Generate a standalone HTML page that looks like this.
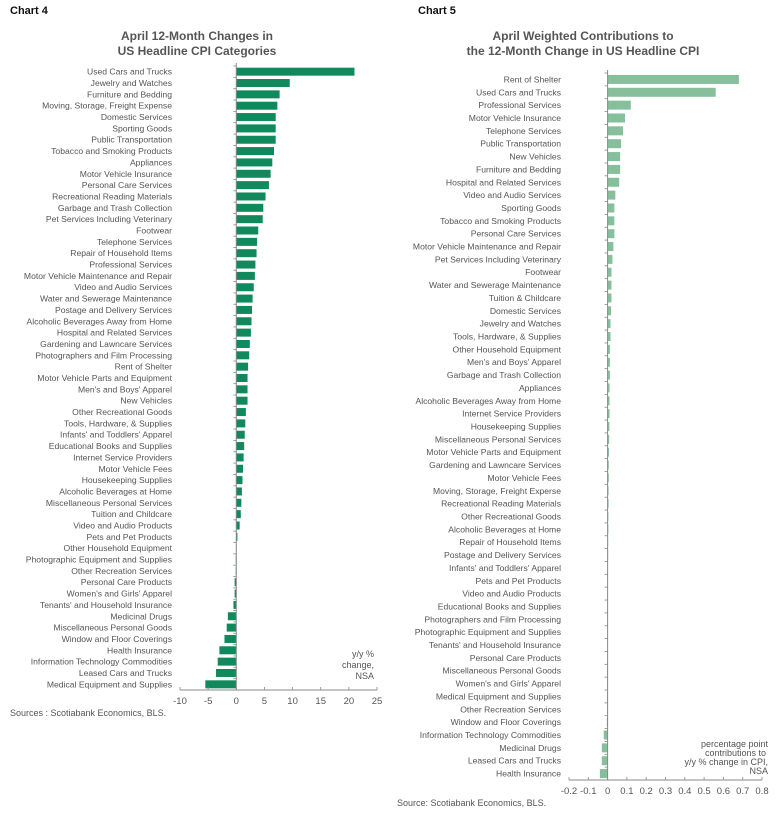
<!DOCTYPE html>
<html><head><meta charset="utf-8"><style>
body{margin:0;background:#fff;width:779px;height:819px;overflow:hidden;font-family:"Liberation Sans",Arial,sans-serif}
svg text{font-family:"Liberation Sans",Arial,sans-serif}
</style></head><body>
<svg id="s" width="779" height="819">
<text x="10" y="14" font-size="11" font-weight="bold" fill="#111">Chart 4</text>
<text x="197" y="40" font-size="12" font-weight="bold" fill="#555" text-anchor="middle">April 12-Month Changes in</text>
<text x="197" y="55" font-size="12" font-weight="bold" fill="#555" text-anchor="middle">US Headline CPI Categories</text>
<text x="418" y="14" font-size="11" font-weight="bold" fill="#111">Chart 5</text>
<text x="583" y="40" font-size="12" font-weight="bold" fill="#555" text-anchor="middle">April Weighted Contributions to</text>
<text x="583" y="55" font-size="12" font-weight="bold" fill="#555" text-anchor="middle">the 12-Month Change in US Headline CPI</text>
<text x="10" y="716" font-size="9" fill="#555">Sources : Scotiabank Economics, BLS.</text>
<text x="397" y="806" font-size="9" fill="#555">Source: Scotiabank Economics, BLS.</text>
<g font-size="9" fill="#555" text-anchor="end">
<text x="374" y="657">y/y %</text><text x="374" y="668">change,</text><text x="374" y="679">NSA</text></g>
<g font-size="9" fill="#555" text-anchor="end">
<text x="768" y="747">percentage point</text><text x="766" y="756">contributions to</text><text x="768" y="765">y/y % change in CPI,</text><text x="768" y="774">NSA</text></g>
</svg>
<script>
const cats4=["Used Cars and Trucks","Jewelry and Watches","Furniture and Bedding","Moving, Storage, Freight Expense","Domestic Services","Sporting Goods","Public Transportation","Tobacco and Smoking Products","Appliances","Motor Vehicle Insurance","Personal Care Services","Recreational Reading Materials","Garbage and Trash Collection","Pet Services Including Veterinary","Footwear","Telephone Services","Repair of Household Items","Professional Services","Motor Vehicle Maintenance and Repair","Video and Audio Services","Water and Sewerage Maintenance","Postage and Delivery Services","Alcoholic Beverages Away from Home","Hospital and Related Services","Gardening and Lawncare Services","Photographers and Film Processing","Rent of Shelter","Motor Vehicle Parts and Equipment","Men's and Boys' Apparel","New Vehicles","Other Recreational Goods","Tools, Hardware, & Supplies","Infants' and Toddlers' Apparel","Educational Books and Supplies","Internet Service Providers","Motor Vehicle Fees","Housekeeping Supplies","Alcoholic Beverages at Home","Miscellaneous Personal Services","Tuition and Childcare","Video and Audio Products","Pets and Pet Products","Other Household Equipment","Photographic Equipment and Supplies","Other Recreation Services","Personal Care Products","Women's and Girls' Apparel","Tenants' and Household Insurance","Medicinal Drugs","Miscellaneous Personal Goods","Window and Floor Coverings","Health Insurance","Information Technology Commodities","Leased Cars and Trucks","Medical Equipment and Supplies"];
const vals4=[21,9.5,7.7,7.3,7.0,7.0,7.0,6.7,6.4,6.1,5.8,5.2,4.8,4.7,3.9,3.7,3.6,3.4,3.3,3.1,2.9,2.8,2.7,2.6,2.4,2.3,2.1,2.0,2.0,2.0,1.7,1.6,1.5,1.4,1.3,1.2,1.1,1.0,0.9,0.8,0.6,0.2,0.0,-0.1,-0.1,-0.3,-0.3,-0.5,-1.5,-1.7,-2.1,-3.0,-3.3,-3.6,-5.5];
const ticks4=[-10,-5,0,5,10,15,20,25];
const cats5=["Rent of Shelter","Used Cars and Trucks","Professional Services","Motor Vehicle Insurance","Telephone Services","Public Transportation","New Vehicles","Furniture and Bedding","Hospital and Related Services","Video and Audio Services","Sporting Goods","Tobacco and Smoking Products","Personal Care Services","Motor Vehicle Maintenance and Repair","Pet Services Including Veterinary","Footwear","Water and Sewerage Maintenance","Tuition & Childcare","Domestic Services","Jewelry and Watches","Tools, Hardware, & Supplies","Other Household Equipment","Men's and Boys' Apparel","Garbage and Trash Collection","Appliances","Alcoholic Beverages Away from Home","Internet Service Providers","Housekeeping Supplies","Miscellaneous Personal Services","Motor Vehicle Parts and Equipment","Gardening and Lawncare Services","Motor Vehicle Fees","Moving, Storage, Freight Experse","Recreational Reading Materials","Other Recreational Goods","Alcoholic Beverages at Home","Repair of Household Items","Postage and Delivery Services","Infants' and Toddlers' Apparel","Pets and Pet Products","Video and Audio Products","Educational Books and Supplies","Photographers and Film Processing","Photographic Equipment and Supplies","Tenants' and Household Insurance","Personal Care Products","Miscellaneous Personal Goods","Women's and Girls' Apparel","Medical Equipment and Supplies","Other Recreation Services","Window and Floor Coverings","Information Technology Commodities","Medicinal Drugs","Leased Cars and Trucks","Health Insurance"];
const vals5=[0.68,0.56,0.12,0.09,0.08,0.07,0.065,0.065,0.06,0.04,0.035,0.035,0.035,0.03,0.025,0.02,0.02,0.02,0.018,0.015,0.015,0.012,0.012,0.012,0.01,0.01,0.01,0.009,0.008,0.007,0.006,0.006,0.005,0.005,0.004,0.004,0.003,0.003,0.002,0.002,0.001,0.001,0.001,0,0,-0.001,-0.002,-0.002,-0.003,-0.002,-0.004,-0.02,-0.03,-0.03,-0.04];
const ticks5=[-0.2,-0.1,0,0.1,0.2,0.3,0.4,0.5,0.6,0.7,0.8];
const NS='http://www.w3.org/2000/svg';
const svg=document.getElementById('s');
function mk(tag,attrs,parent){const e=document.createElementNS(NS,tag);for(const k in attrs)e.setAttribute(k,attrs[k]);(parent||svg).appendChild(e);return e;}
function chart(cfg,cats,vals,ticks,pre){
  const g=mk('g',{});
  
  
  const x=v=>cfg.x0+(v-cfg.min)/(cfg.max-cfg.min)*(cfg.x1-cfg.x0);
  const step=(cfg.bot-cfg.top)/cats.length;
  cats.forEach((c,i)=>{
    const cy=cfg.top+step*(i+0.5);
    const v=vals[i];
    const r=mk('rect',{x:Math.min(x(0),x(v)),y:cy-cfg.bh/2,width:Math.max(Math.abs(x(v)-x(0)),0.3),height:cfg.bh,fill:cfg.color},g);
    
    
    const t=mk('text',{x:cfg.lx,y:cy+3,'font-size':'8.6','text-anchor':'end',fill:'#555'},g);
    t.textContent=c;
    
    
    mk('line',{x1:x(0)-3,x2:x(0),y1:cfg.top+step*i,y2:cfg.top+step*i,stroke:'#888','stroke-width':0.8},g);
  });
  const ya=mk('line',{x1:x(0),x2:x(0),y1:cfg.top-3,y2:cfg.bot,stroke:'#888','stroke-width':1},g);
  
  
  const xa=mk('line',{x1:x(cfg.min),x2:x(cfg.max),y1:cfg.bot,y2:cfg.bot,stroke:'#888','stroke-width':1},g);
  
  
  ticks.forEach(tv=>{
    mk('line',{x1:x(tv),x2:x(tv),y1:cfg.bot,y2:cfg.bot-3,stroke:'#888','stroke-width':0.8},g);
    const t=mk('text',{x:x(tv),y:cfg.bot+14,'font-size':'9.5','text-anchor':'middle',fill:'#555'},g);
    t.textContent=String(tv);
    
    
  });
}
chart({x0:180,x1:377,min:-10,max:25,top:66,bot:690,bh:8,color:'#108a5c',lx:172},cats4,vals4,ticks4,'chart4');
chart({x0:569,x1:762,min:-0.2,max:0.8,top:73,bot:780,bh:9,color:'#86bf9c',lx:561},cats5,vals5,ticks5,'chart5');
</script>
</body></html>
